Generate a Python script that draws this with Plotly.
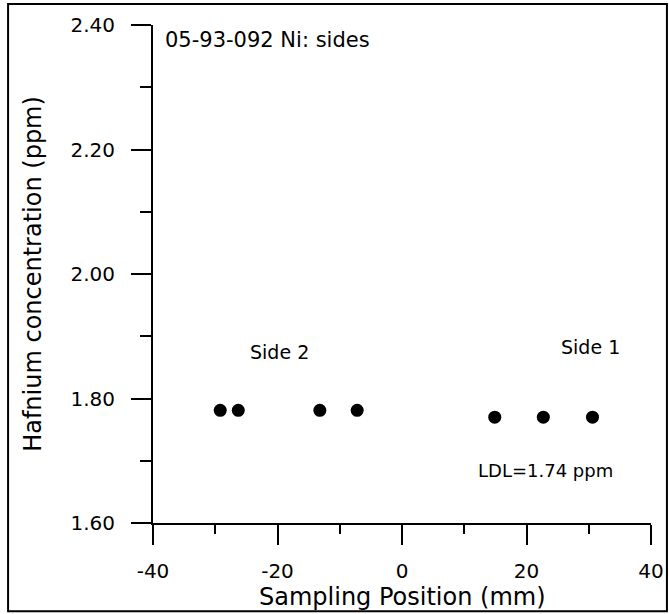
import plotly.graph_objects as go

# Data
side2_pos = [-29.2, -26.3, -13.2, -7.2]
side2_hf = [1.781, 1.781, 1.781, 1.781]
side1_pos = [14.9, 22.7, 30.6]
side1_hf = [1.770, 1.770, 1.770]

x_ticks = [-40, -20, 0, 20, 40]
x_labels = ["-40", "-20", "0", "20", "40"]
y_ticks = [1.60, 1.80, 2.00, 2.20, 2.40]
y_labels = ["1.60", "1.80", "2.00", "2.20", "2.40"]

FONT = "DejaVu Sans, Arial, sans-serif"

fig = go.Figure()
fig.add_trace(go.Scatter(x=side2_pos, y=side2_hf, mode="markers",
                         marker=dict(color="black", size=13), name="Side 2"))
fig.add_trace(go.Scatter(x=side1_pos, y=side1_hf, mode="markers",
                         marker=dict(color="black", size=13), name="Side 1"))

# text labels inside the plot
fig.add_annotation(x=-38.4, y=2.376, text="05-93-092 Ni: sides", showarrow=False,
                   xanchor="left", font=dict(size=21, color="black", family=FONT))
fig.add_annotation(x=-19.6, y=1.874, text="Side 2", showarrow=False,
                   font=dict(size=19, color="black", family=FONT))
fig.add_annotation(x=30.2, y=1.883, text="Side 1", showarrow=False,
                   font=dict(size=19, color="black", family=FONT))
fig.add_annotation(x=23.0, y=1.684, text="LDL=1.74 ppm", showarrow=False,
                   font=dict(size=18, color="black", family=FONT))
# x axis title, placed by hand so it sits inside the frame
fig.add_annotation(x=0.5, y=-0.149, xref="paper", yref="paper",
                   text="Sampling Position (mm)", showarrow=False, yanchor="middle",
                   font=dict(size=24, color="black", family=FONT))

# frame around the whole figure
fig.add_shape(type="rect", xref="paper", yref="paper",
              x0=-0.291, x1=1.032, y0=-0.177, y1=1.042,
              line=dict(color="black", width=2))

fig.update_xaxes(range=[-40, 40], tickvals=x_ticks, ticktext=x_labels,
                 showgrid=False, zeroline=False, automargin=False,
                 showline=True, linecolor="black", linewidth=2,
                 ticks="outside", ticklen=20, tickwidth=2, tickcolor="black",
                 ticklabelstandoff=9,
                 minor=dict(dtick=10, ticks="outside", ticklen=9, tickwidth=2, tickcolor="black"),
                 tickfont=dict(size=20, color="black", family=FONT))
fig.update_yaxes(range=[1.6, 2.4], tickvals=y_ticks, ticktext=y_labels,
                 showgrid=False, zeroline=False,
                 showline=True, linecolor="black", linewidth=2,
                 ticks="outside", ticklen=20, tickwidth=2, tickcolor="black",
                 ticklabelstandoff=12,
                 minor=dict(dtick=0.1, ticks="outside", ticklen=11, tickwidth=2, tickcolor="black"),
                 tickfont=dict(size=20, color="black", family=FONT),
                 title=dict(text="Hafnium concentration (ppm)", standoff=22,
                            font=dict(size=24, color="black", family=FONT)))

fig.update_layout(width=669, height=614, showlegend=False,
                  margin=dict(l=153, r=18, t=25, b=91),
                  plot_bgcolor="white", paper_bgcolor="white")

fig.write_html("out.html", config={"displayModeBar": False},
               post_script="document.body.style.margin='0';"
                           "document.documentElement.style.overflow='hidden';"
                           "document.body.style.overflow='hidden';")
